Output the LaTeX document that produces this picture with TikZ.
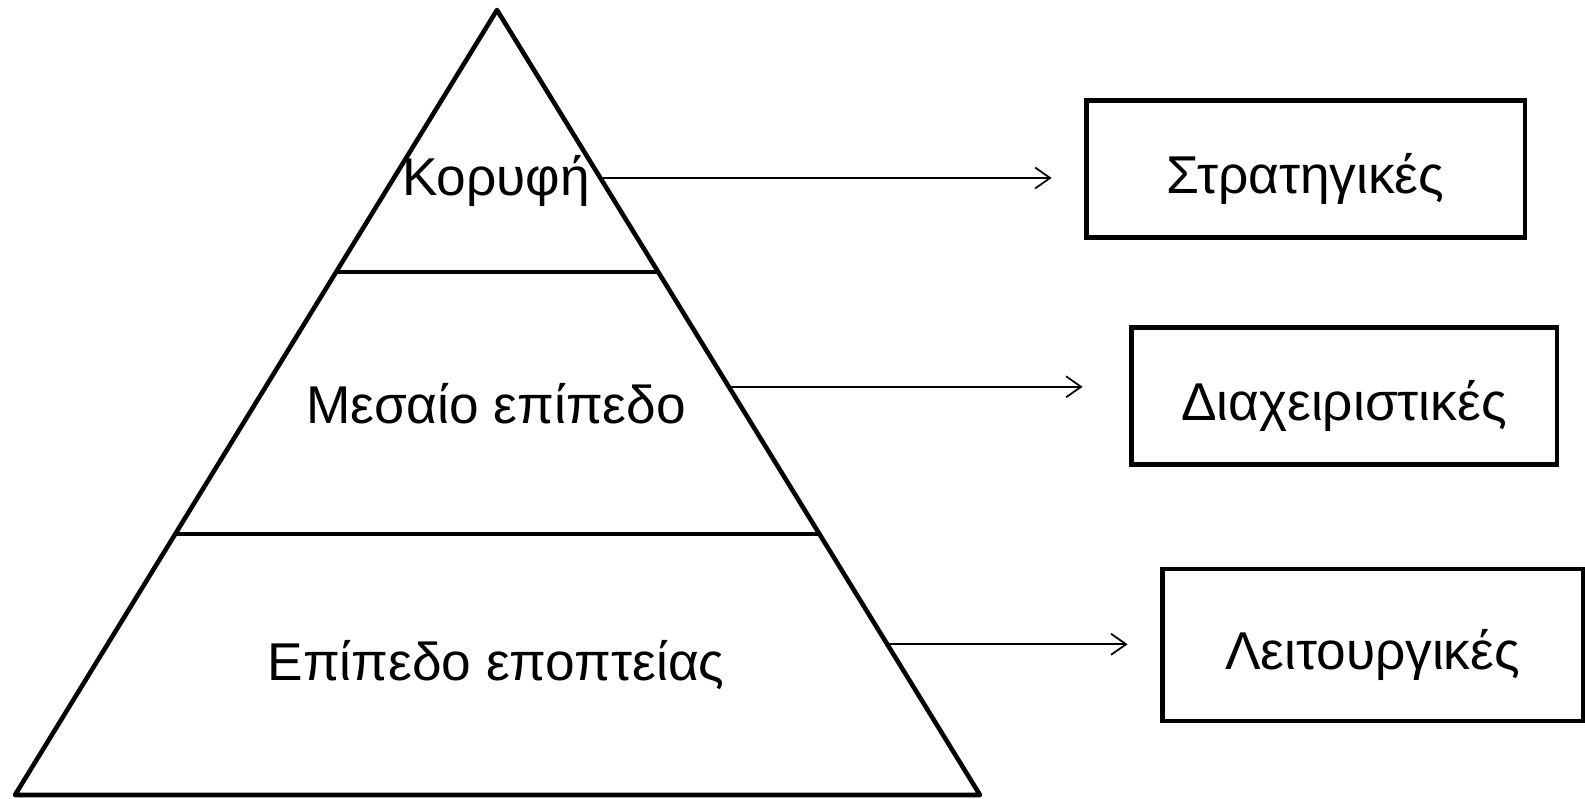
\documentclass[tikz,border=0pt]{standalone}
\usepackage{fontspec}
\setmainfont{Liberation Sans}
\usetikzlibrary{calc,positioning,arrows.meta}
\tikzset{
    %Define standard arrow tip
    >={Straight Barb[length=0.3cm,width=0.42cm]}
}

\begin{document}
\begin{tikzpicture}[x=0.02cm, y=-0.02cm, font=\fontsize{30.3}{36}\selectfont,
    level/.style={line width=2.6pt, line join=round},
    role/.style={draw, line width=2.8pt, minimum height=2.74cm, text height=1.05cm, text depth=0.09cm},
    link/.style={->, line width=1pt, shorten >=0.64cm}]

	\useasboundingbox (0, 0) rectangle (1585, 798);

	% pyramid
	\coordinate (top) at (497, 10);
	\coordinate (bl) at (15, 795);
	\coordinate (br) at (980, 795);
	\draw[level] (top)--(bl)--(br)--cycle;
	\path (top) -- (bl) coordinate[pos=0.334] (l1) coordinate[pos=0.6675] (l2);
	\path (top) -- (br) coordinate[pos=0.334] (r1) coordinate[pos=0.6675] (r2)
		coordinate[pos=0.214] (k1) coordinate[pos=0.48] (k2) coordinate[pos=0.808] (k3);
	\draw[level] (l1)--(r1);
	\draw[level] (l2)--(r2);

	\node (peak) at (496, 181) {Κορυφή};
	\node (middle) at (496, 404) {Μεσαίο επίπεδο};
	\node (supervision) at (496, 665) {Επίπεδο εποπτείας};

	% decisions
	\node (strategic) at (1305.5, 169) [role, minimum width=8.78cm] {Στρατηγικές};
	\node (managerial) at (1344, 396) [role, minimum width=8.52cm] {Διαχειριστικές};
	\node (operational) at (1372.5, 645) [role, minimum width=8.42cm, minimum height=3.04cm] {Λειτουργικές};

	\draw[link] (k1) -- (strategic.west |- k1);
	\draw[link, shorten >=0.92cm] (k2) -- (managerial.west |- k2);
	\draw[link] (k3) -- (operational.west |- k3);

\end{tikzpicture}
\end{document}
